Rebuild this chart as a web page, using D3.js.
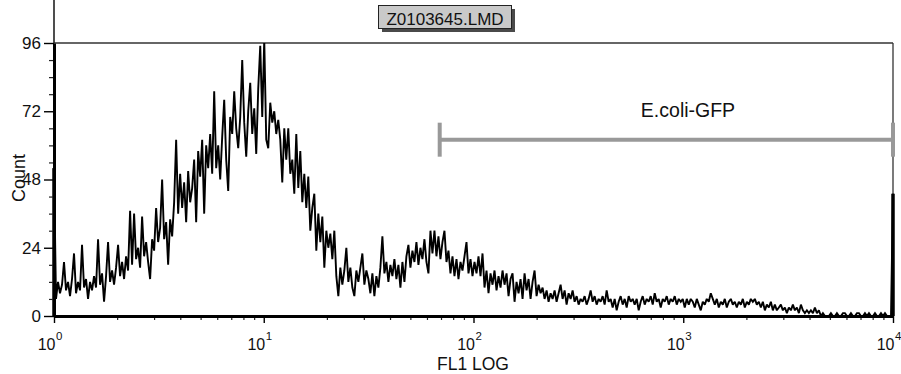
<!DOCTYPE html>
<html>
<head>
<meta charset="utf-8">
<script src="https://cdn.jsdelivr.net/npm/d3@7"></script>
<style>
  html, body { margin: 0; padding: 0; background: #fff; }
  svg { display: block; font-family: "Liberation Sans", Arial, sans-serif; }
</style>
</head>
<body>
<svg id="chart" width="901" height="374"></svg>
<script>
// ---------------- data ----------------
const title = "Z0103645.LMD";
const xLabel = "FL1 LOG";
const yLabel = "Count";
const xDomain = [1, 10000];
const yDomain = [0, 96];
const xMajorTicks = [1, 10, 100, 1000, 10000];
const xTickExponents = ["0", "1", "2", "3", "4"];
const yMajorTicks = [0, 24, 48, 72, 96];
const yMinorTicks = [6, 12, 18, 30, 36, 42, 54, 60, 66, 78, 84, 90];
const gateLabel = "E.coli-GFP";
const gateRange = [69, 10000];
const gateLevel = 62;

// histogram counts, channels evenly spaced in log10 from 10^0 to 10^4
const counts = [
  52,6,12,8,11,19,9,12,7,13,
  22,8,12,9,25,10,13,6,12,9,
  14,10,27,11,15,5,14,26,12,16,
  11,17,25,14,19,13,21,16,37,18,
  36,20,24,17,35,21,26,19,13,27,
  23,38,26,31,48,27,33,18,34,28,
  40,62,36,50,38,47,33,51,40,45,
  55,33,58,49,62,36,60,52,64,50,
  79,52,60,48,63,76,55,44,70,64,
  79,66,59,70,90,68,56,72,82,64,
  73,57,80,95,70,97,62,59,75,68,
  72,64,69,62,47,66,55,66,50,55,
  43,64,45,58,40,50,38,49,30,38,
  43,23,36,26,35,17,30,24,29,20,
  30,14,7,17,11,16,24,12,17,10,
  7,16,12,17,22,11,16,13,8,15,
  7,14,10,17,28,15,19,12,18,14,
  20,13,18,10,19,12,21,25,17,23,
  19,26,18,24,20,27,19,15,30,22,
  30,21,28,20,26,30,19,23,15,21,
  14,20,13,19,16,21,26,15,20,14,
  19,15,21,14,22,10,16,8,15,11,
  16,9,14,10,16,11,15,7,13,15,
  5,12,8,13,6,15,9,13,6,12,
  16,7,11,8,10,6,9,5,8,6,
  9,5,8,11,6,9,4,8,6,9,
  5,7,4,6,5,7,4,6,9,5,
  7,4,6,5,7,4,9,5,6,3,
  6,2,5,7,4,6,3,7,5,6,
  4,6,2,5,7,4,6,5,7,4,
  8,5,6,3,6,5,7,4,6,5,
  7,4,6,5,6,3,6,4,6,5,
  3,6,4,2,5,4,6,5,8,6,
  4,6,3,5,4,6,3,5,6,4,
  5,3,5,4,6,3,5,4,6,5,
  6,4,5,3,5,2,4,3,5,2,
  4,2,3,4,2,3,1,3,2,4,
  2,3,1,4,2,1,2,1,2,1,
  3,1,2,0,1,0,0,0,1,0,
  0,1,0,0,1,1,0,0,1,0,
  0,1,1,0,0,1,0,1,0,0,
  1,0,0,1,0,1,0,0,0,43
];

// ---------------- layout ----------------
const svg = d3.select("#chart");
const L = 54, R = 893, T = 43, B = 316;
const x = d3.scaleLog().domain(xDomain).range([L, R]);
const y = d3.scaleLinear().domain(yDomain).range([B, T]);
const FONT = '"Liberation Sans", Arial, sans-serif';

const logMin = Math.log10(xDomain[0]), logMax = Math.log10(xDomain[1]);
const data = counts.map((c, i) => ({
  v: Math.pow(10, logMin + (logMax - logMin) * i / (counts.length - 1)),
  c: c
}));

// minor x ticks (2..9 of each decade)
const xMinorTicks = [];
for (let d = 0; d < 4; d++) for (let k = 2; k <= 9; k++) xMinorTicks.push(k * Math.pow(10, d));

// clip
svg.append("defs").append("clipPath").attr("id", "plotclip")
  .append("rect").attr("x", L - 2).attr("y", T).attr("width", R - L + 4).attr("height", B - T + 1);

// frame (top & right)
svg.append("line").attr("x1", L).attr("x2", R).attr("y1", T).attr("y2", T)
  .attr("stroke", "#333").attr("stroke-width", 1.3);
svg.append("line").attr("x1", R).attr("x2", R).attr("y1", T).attr("y2", B)
  .attr("stroke", "#333").attr("stroke-width", 1.3);
// axis extension above plot
svg.append("line").attr("x1", L).attr("x2", L).attr("y1", 0).attr("y2", T)
  .attr("stroke", "#222").attr("stroke-width", 1.6);

// gate
const gy = y(gateLevel);
const gate = svg.append("g").attr("stroke", "#999").attr("stroke-width", 4);
gate.append("line").attr("x1", x(gateRange[0])).attr("x2", x(gateRange[1])).attr("y1", gy).attr("y2", gy);
gate.append("line").attr("x1", x(gateRange[0])).attr("x2", x(gateRange[0])).attr("y1", gy - 17).attr("y2", gy + 17);
gate.append("line").attr("x1", x(gateRange[1])).attr("x2", x(gateRange[1])).attr("y1", gy - 17).attr("y2", gy + 17);
svg.append("text").attr("x", 688).attr("y", 117).attr("text-anchor", "middle")
  .attr("font-size", 19.5).attr("fill", "#111").style("font-family", FONT).text(gateLabel);

// histogram line
svg.append("path").datum(data)
  .attr("clip-path", "url(#plotclip)")
  .attr("fill", "none").attr("stroke", "#000").attr("stroke-width", 1.9)
  .attr("stroke-linejoin", "miter").attr("stroke-miterlimit", 2)
  .attr("d", d3.line().x(d => x(d.v)).y(d => y(d.c)));
// first & last channels drawn as bars from baseline (as in the instrument plot)
svg.append("g").selectAll("line").data([data[0], data[data.length - 1]]).join("line")
  .attr("x1", d => x(d.v)).attr("x2", d => x(d.v))
  .attr("y1", y(0)).attr("y2", d => y(d.c))
  .attr("stroke", "#000").attr("stroke-width", 3.5);

// x axis: minor ticks
svg.append("g").attr("transform", `translate(0,${B})`)
  .call(d3.axisBottom(x).tickValues(xMinorTicks).tickSize(4).tickSizeOuter(0).tickFormat(() => ""))
  .call(g => g.select(".domain").remove())
  .call(g => g.selectAll(".tick line").attr("stroke", "#222").attr("stroke-width", 1.2));
// x axis: major ticks + domain
const xa = svg.append("g").attr("transform", `translate(0,${B})`)
  .call(d3.axisBottom(x).tickValues(xMajorTicks).tickSize(7).tickSizeOuter(0).tickFormat(() => ""));
xa.select(".domain").attr("stroke", "#000").attr("stroke-width", 3);
xa.selectAll(".tick line").attr("stroke", "#000").attr("stroke-width", 1.4);
xa.selectAll(".tick text").remove();
xa.selectAll(".tick").each(function(d, i) {
  const g = d3.select(this);
  g.append("text").attr("x", 1).attr("y", 34).attr("text-anchor", "end")
    .attr("fill", "#111").attr("font-size", 16).style("font-family", FONT).text("10");
  g.append("text").attr("x", 1.5).attr("y", 24).attr("text-anchor", "start")
    .attr("fill", "#111").attr("font-size", 11.5).style("font-family", FONT).text(xTickExponents[i]);
});

// y axis: minor
svg.append("g").attr("transform", `translate(${L},0)`)
  .call(d3.axisLeft(y).tickValues(yMinorTicks).tickSize(5).tickSizeOuter(0).tickFormat(() => ""))
  .call(g => g.select(".domain").remove())
  .call(g => g.selectAll(".tick line").attr("stroke", "#222").attr("stroke-width", 1.2));
// y axis: major
const ya = svg.append("g").attr("transform", `translate(${L},0)`)
  .call(d3.axisLeft(y).tickValues(yMajorTicks).tickSize(10).tickPadding(3).tickSizeOuter(0));
ya.select(".domain").attr("stroke", "#000").attr("stroke-width", 3);
ya.selectAll(".tick line").attr("stroke", "#000").attr("stroke-width", 1.4);
ya.selectAll(".tick text").attr("fill", "#111").attr("font-size", 17).style("font-family", FONT);

// axis labels
svg.append("text").attr("x", 473).attr("y", 370).attr("text-anchor", "middle")
  .attr("font-size", 17.5).attr("fill", "#111").style("font-family", FONT).text(xLabel);
svg.append("text").attr("transform", "translate(25,178) rotate(-90)").attr("text-anchor", "middle")
  .attr("font-size", 18).attr("fill", "#111").style("font-family", FONT).text(yLabel);

// title box
svg.append("rect").attr("x", 382).attr("y", 9).attr("width", 133).attr("height", 23).attr("fill", "#4a4a4a");
svg.append("rect").attr("x", 378.5).attr("y", 5.5).attr("width", 133).attr("height", 23)
  .attr("fill", "#c9c9c9").attr("stroke", "#222").attr("stroke-width", 1);
svg.append("text").attr("x", 445).attr("y", 25).attr("text-anchor", "middle")
  .attr("font-size", 17).attr("fill", "#111").style("font-family", FONT).text(title);
</script>
</body>
</html>
